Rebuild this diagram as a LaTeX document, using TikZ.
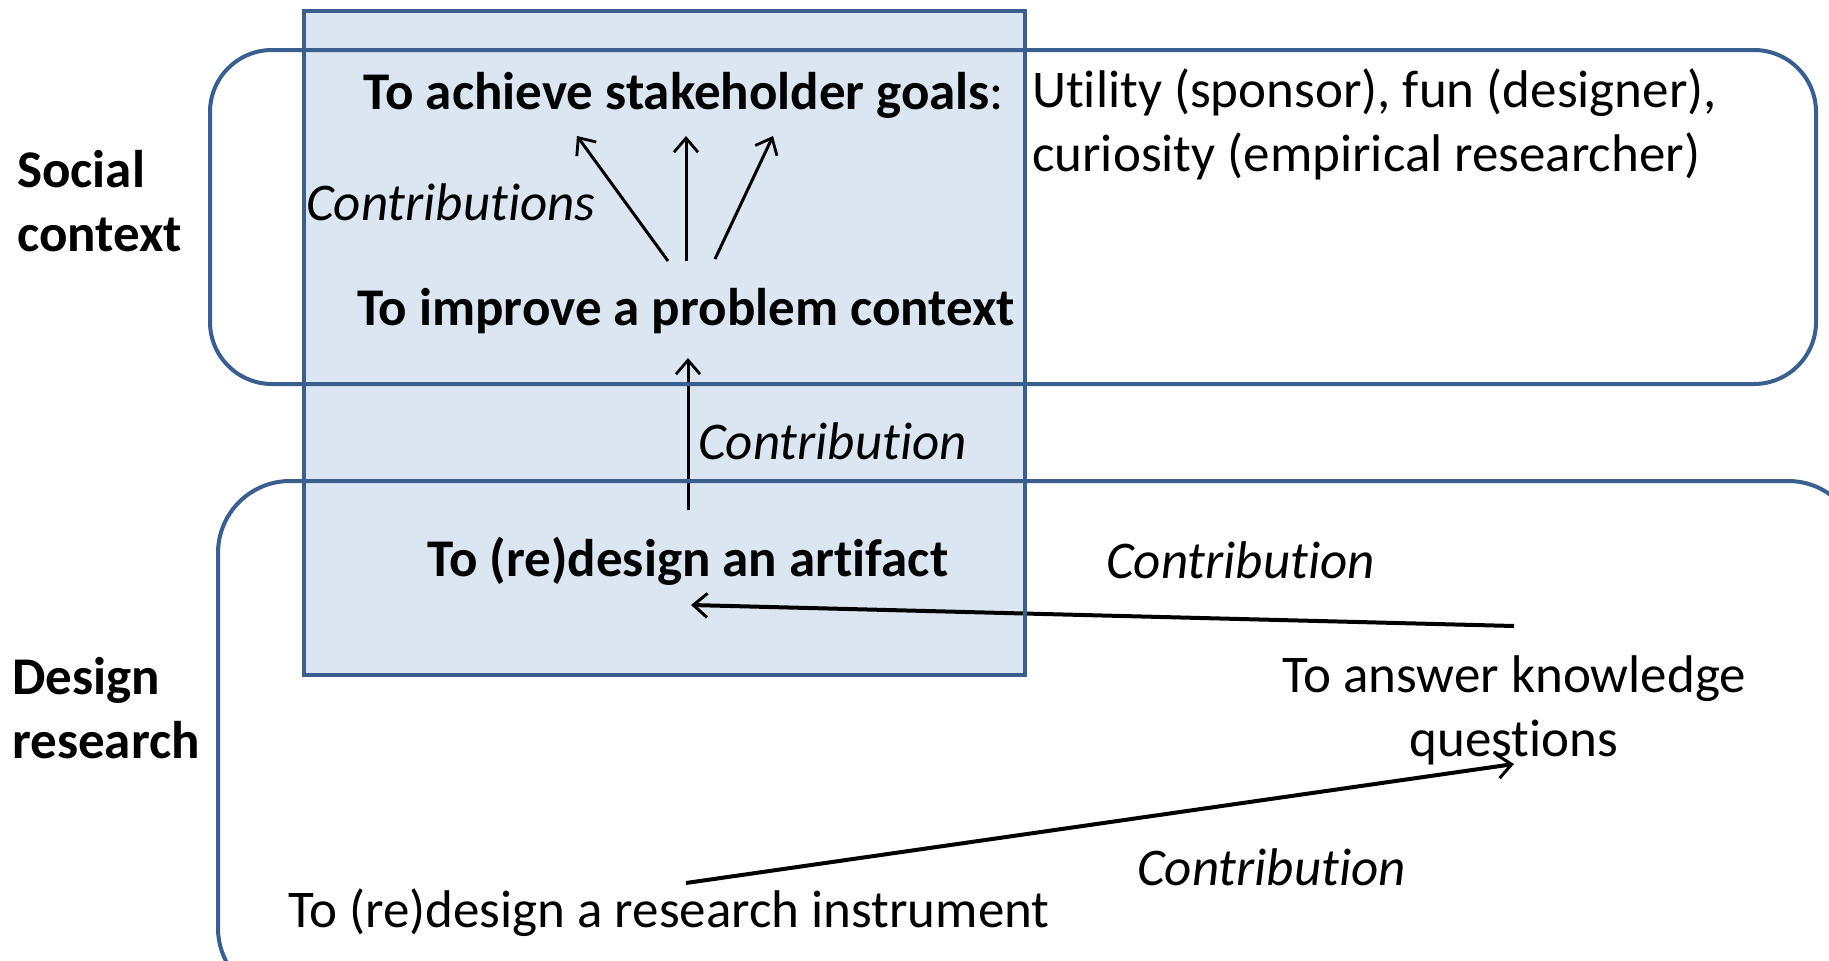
\documentclass[tikz,border=0pt]{standalone}
\usepackage{fontspec}
\setmainfont{Carlito}[Ligatures=NoCommon]
\usetikzlibrary{arrows.meta}
\definecolor{frame}{HTML}{3A5F8F}
\definecolor{panel}{HTML}{DCE6F2}
\tikzset{
  boxline/.style={draw=frame, line width=4pt},
  reg/.style={font=\fontsize{53}{64}\selectfont, inner sep=0pt, align=center},
  bld/.style={font=\fontsize{53}{64}\selectfont\bfseries, inner sep=0pt, align=center},
  itl/.style={font=\fontsize{53}{64}\selectfont\itshape, inner sep=0pt},
  arr/.style={draw=black, line width=3pt, -{Straight Barb[length=14pt,width=24pt,line width=2.8pt]}},
  thickarr/.style={draw=black, line width=4pt, -{Straight Barb[length=14pt,width=24pt,line width=3pt]}}
}
\begin{document}
\begin{tikzpicture}[x=1pt,y=-1pt]
\useasboundingbox (0,0) rectangle (1829,961);
% blue panel
\fill[panel] (304,11) rectangle (1025,675);
% connector end points
\coordinate (g1) at (577,136);
\coordinate (g2) at (686,136);
\coordinate (g3) at (773,136);
\coordinate (s1) at (668,261);
\coordinate (s2) at (686,261);
\coordinate (s3) at (715,259);
\coordinate (a1) at (688,510);
\coordinate (p1) at (688,358);
\coordinate (k1) at (1514,626);
\coordinate (d1) at (691,605);
\coordinate (r1) at (686,883);
\coordinate (k2) at (1514,764);
\draw[arr] (s1) -- (g1);
\draw[arr] (s2) -- (g2);
\draw[arr] (s3) -- (g3);
\draw[arr] (a1) -- (p1);
\draw[thickarr] (k1) -- (d1);
\draw[thickarr] (r1) -- (k2);
% frames
\draw[boxline] (304,11) rectangle (1025,675);
\draw[boxline, rounded corners=62pt] (210,50) rectangle (1816,384);
\draw[boxline, rounded corners=72pt] (218,481) rectangle (1860,1000);
% texts
\node[bld, anchor=center] (goals) at (684,95) {To achieve stakeholder goals\textmd{:}};
\node[reg, anchor=west, align=left] (utility) at (1032,124) {Utility (sponsor), fun (designer),\\curiosity (empirical researcher)};
\node[bld, anchor=west, align=left] (social) at (17,201) {Social\\context};
\node[itl, anchor=west] (contribs) at (306,202) {Contributions};
\node[bld] (improve) at (686,311) {To improve a problem context};
\node[itl, anchor=west] (contribA) at (698,441) {Contribution};
\node[bld] (artifact) at (688,561) {To (re)design an artifact};
\node[itl, anchor=west] (contribB) at (1106,560) {Contribution};
\node[reg] (answer) at (1514,710) {To answer knowledge\\questions};
\node[bld, anchor=west, align=left] (design) at (12,708) {Design\\research};
\node[itl, anchor=west] (contribC) at (1137,867) {Contribution};
\node[reg] (instrument) at (669,913) {To (re)design a research instrument};
\end{tikzpicture}
\end{document}
